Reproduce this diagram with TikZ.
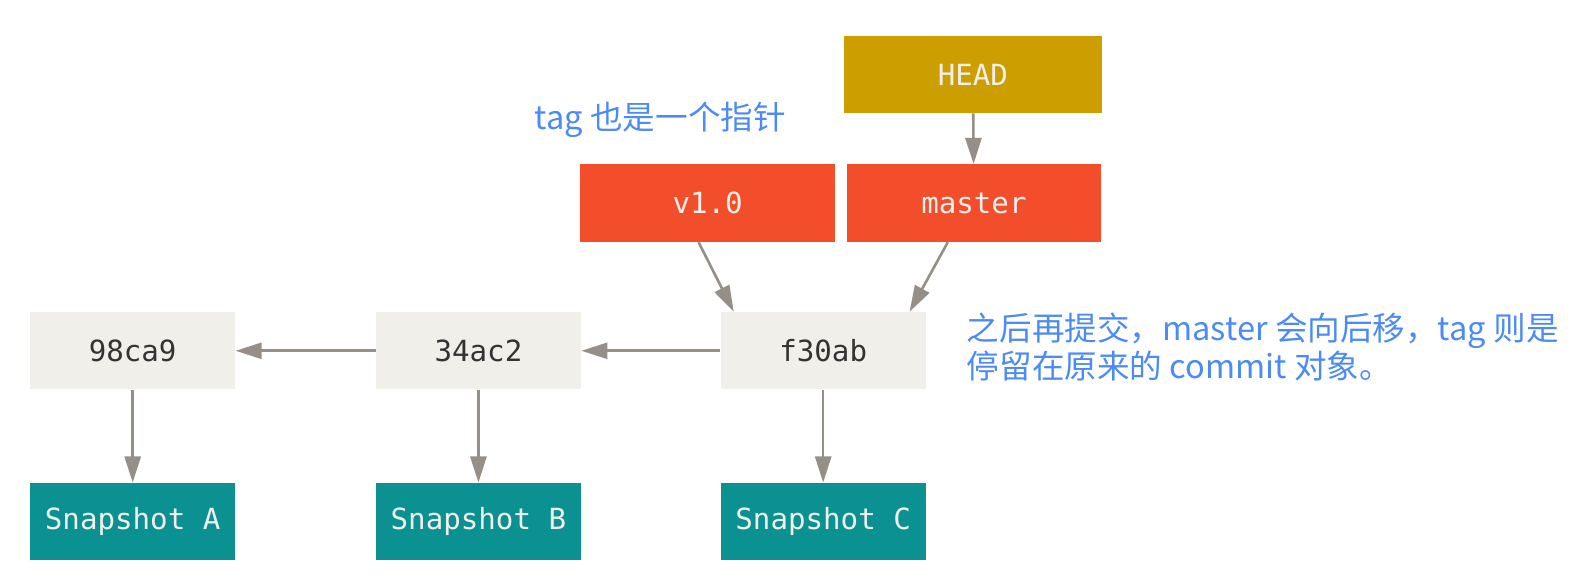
\documentclass[tikz,border=0pt]{standalone}
\usepackage{fontspec}
\setmonofont{DejaVu Sans Mono}
\newfontfamily\cjk{Noto Sans CJK SC}
\usetikzlibrary{arrows.meta}
\definecolor{commitbg}{HTML}{F0EFE9}
\definecolor{snapbg}{HTML}{0B9192}
\definecolor{branchbg}{HTML}{F24E2C}
\definecolor{headbg}{HTML}{CC9E00}
\definecolor{arrowgray}{HTML}{958F87}
\definecolor{noteblue}{HTML}{4C8BF5}
\tikzset{
  box/.style={minimum width=102pt, minimum height=38.5pt, inner sep=0pt,
    font=\ttfamily\fontsize{14.5}{14.5}\selectfont},
  commit/.style={box, fill=commitbg, text=black!80},
  snap/.style={box, fill=snapbg, text=commitbg},
  branch/.style={box, minimum width=126.5pt, fill=branchbg, text=commitbg},
  head/.style={branch, minimum width=128pt, fill=headbg},
  note/.style={font=\cjk\fontsize{16.2}{16}\selectfont, text=noteblue, align=left},
  arr/.style={-{Triangle[length=13pt,width=8pt]}, draw=arrowgray, line width=1.3pt},
}
\begin{document}
\begin{tikzpicture}[x=0.5pt, y=-0.5pt]
      \useasboundingbox (0,0) rectangle (1568,585);
      \draw
        (132,349) node[commit] (c1){98ca9}
        (476,349) node[commit] (c2){34ac2}
        (819,349) node[commit] (c3){f30ab}
        (132,519) node[snap] (s1){Snapshot A}
        (476,519) node[snap] (s2){Snapshot B}
        (819,519) node[snap] (s3){Snapshot C}
        (704,202) node[branch] (v10){v1.0}
        (969,202) node[branch] (master){master}
        (968,74) node[head] (head){HEAD};
      \node[note] (tagnote) at (657,119) {tag 也是一个指针};
      \node[note, anchor=west] (movenote) at (955,345)
        {之后再提交，master 会向后移，tag 则是\\停留在原来的 commit 对象。};
      \begin{scope}[arr]
        \draw (c3) to (c2);
        \draw (c2) to (c1);
        \draw (c1) to (s1);
        \draw (c2) to (s2);
        \draw (c3) to (s3);
        \draw (head) to (master);
        \draw ([xshift=-4.5pt]v10.south) to ([xshift=-44.5pt]c3.north);
        \draw ([xshift=-13pt]master.south) to ([xshift=43pt]c3.north);
      \end{scope}
    \end{tikzpicture}
\end{document}
